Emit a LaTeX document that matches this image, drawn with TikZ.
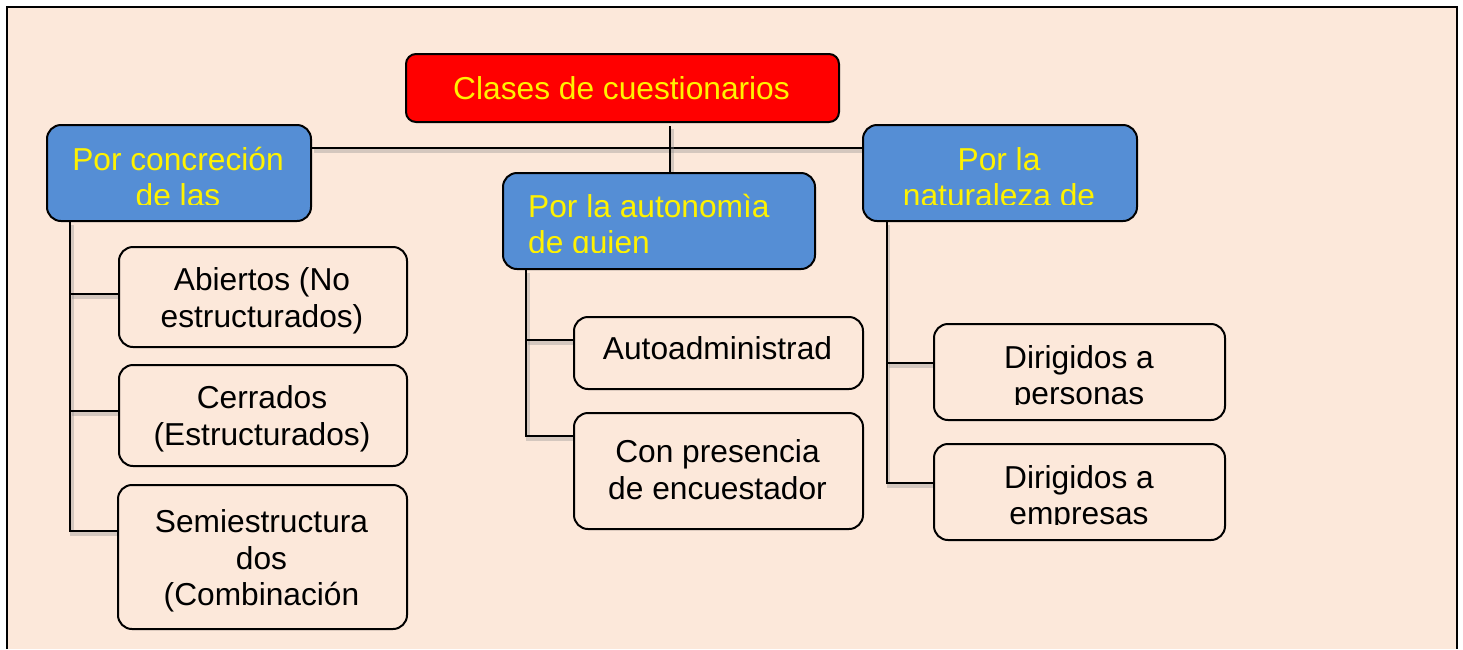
\documentclass[tikz,border=0pt]{standalone}
\usepackage{fontspec}
\setmainfont{Liberation Sans}
\usetikzlibrary{backgrounds}
\definecolor{bg}{RGB}{252,232,218}
\definecolor{boxblue}{RGB}{85,142,213}
\begin{document}
\begin{tikzpicture}[x=1pt,y=-1pt,
  fnt/.style={font=\fontsize{31.7}{36.5}\selectfont},
  box/.style={draw, line width=2pt, rounded corners=14pt, inner sep=0pt, anchor=north west, fnt, align=center},
  head/.style={box, fill=boxblue, text=yellow},
  leaf/.style={box, fill=bg, text=black},
  txt/.style={inner sep=0pt, anchor=base, fnt},
  conn/.style={line width=2pt, preaction={draw=black!45, opacity=0.35, line width=3.5pt, transform canvas={xshift=2pt,yshift=-3pt}}}]
\useasboundingbox (0,0) rectangle (1463,649);
% boxes
\node[box, fill=red, text=yellow, rounded corners=10pt, minimum width=433pt, minimum height=68pt] (root) at (405,53) {};
\node[head, minimum width=264pt, minimum height=96pt] (l1) at (46,124) {};
\node[head, minimum width=312pt, minimum height=96pt] (mid) at (502,172) {};
\node[head, minimum width=274pt, minimum height=96pt] (r1) at (862,124) {};
\node[leaf, minimum width=288pt, minimum height=100pt] (c1) at (118,246) {};
\node[leaf, minimum width=288pt, minimum height=101pt] (c2) at (118,364) {};
\node[leaf, minimum width=289pt, minimum height=144pt] (c3) at (117,484) {};
\node[leaf, minimum width=289pt, minimum height=72pt] (m1) at (573,316) {};
\node[leaf, minimum width=289pt, minimum height=116pt] (m2) at (573,412) {};
\node[leaf, minimum width=291pt, minimum height=96pt] (r2) at (933,323) {};
\node[leaf, minimum width=291pt, minimum height=96pt] (r3) at (933,443) {};
% texts
\node[txt, text=yellow] (roott) at (621.5,99) {Clases de cuestionarios};
\node[txt] (c1a) at (262,290.7) {Abiertos (No};
\node[txt] (c1b) at (262,327.3) {estructurados)};
\node[txt] (c2a) at (262,408.3) {Cerrados};
\node[txt] (c2b) at (262,445) {(Estructurados)};
\node[txt] (c3a) at (261.5,532.3) {Semiestructura};
\node[txt] (c3b) at (261.5,569) {dos};
\node[txt] (c3c) at (261.5,605.7) {(Combinación};
\node[txt] (m1a) at (717.5,359.3) {Autoadministrad};
\node[txt] (m2a) at (717.5,462.7) {Con presencia};
\node[txt] (m2b) at (717.5,499.3) {de encuestador};
% clipped texts
\begin{scope}
\clip (46,124) rectangle (310,204.5);
\node[txt, text=yellow] (l1a) at (178,170) {Por concreción};
\node[txt, text=yellow] (l1b) at (178,206.5) {de las};
\end{scope}
\begin{scope}
\clip (502,172) rectangle (814,252);
\node[txt, text=yellow, anchor=base west] (mida) at (528,217) {Por la autonomìa};
\node[txt, text=yellow, anchor=base west] (midb) at (528,253.5) {de quien};
\end{scope}
\begin{scope}
\clip (862,124) rectangle (1136,204.5);
\node[txt, text=yellow] (r1a) at (999,170) {Por la};
\node[txt, text=yellow] (r1b) at (999,206.5) {naturaleza de};
\end{scope}
\begin{scope}
\clip (933,323) rectangle (1224,404.3);
\node[txt] (r2a) at (1079,368) {Dirigidos a};
\node[txt] (r2b) at (1079,404.5) {personas};
\end{scope}
\begin{scope}
\clip (933,443) rectangle (1224,524.3);
\node[txt] (r3a) at (1079,488) {Dirigidos a};
\node[txt] (r3b) at (1079,524.5) {empresas};
\end{scope}
% connectors
\coordinate (j) at (670,148);
\coordinate (lb1) at (70,294);
\coordinate (lb2) at (70,411);
\coordinate (lb3) at (70,531);
\coordinate (mb1) at (526,340);
\coordinate (mb2) at (526,436);
\coordinate (rb1) at (886.5,363);
\coordinate (rb2) at (886.5,483);
\begin{pgfonlayer}{background}
\fill[white] (0,0) rectangle (1463,649);
\fill[bg] (6.5,6.5) rectangle (1456.5,649);
\draw[line width=2pt] (6.5,649) -- (6.5,6.5) -- (1456.5,6.5) -- (1456.5,649);
\draw[conn] (l1.east |- j) -- (r1.west |- j);
\draw[conn] ([yshift=-3pt]j |- root.south) -- (j |- mid.north);
\draw[conn] (lb1 |- l1.south) -- (lb3) -- (lb3 -| c3.west);
\draw[conn] (lb1) -- (lb1 -| c1.west);
\draw[conn] (lb2) -- (lb2 -| c2.west);
\draw[conn] (mb1 |- mid.south) -- (mb2) -- (mb2 -| m2.west);
\draw[conn] (mb1) -- (mb1 -| m1.west);
\draw[conn] (rb1 |- r1.south) -- (rb2) -- (rb2 -| r3.west);
\draw[conn] (rb1) -- (rb1 -| r2.west);
\end{pgfonlayer}
\end{tikzpicture}
\end{document}
